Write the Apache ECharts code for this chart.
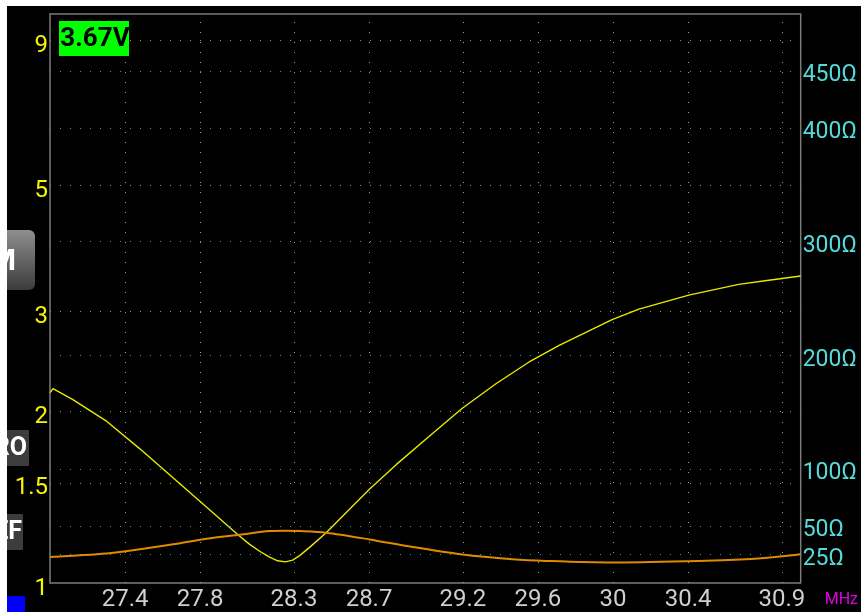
<!DOCTYPE html>
<html>
<head>
<meta charset="utf-8">
<script src="https://cdn.jsdelivr.net/npm/echarts@6/dist/echarts.min.js"></script>
<style>
  html, body { margin: 0; padding: 0; background: #fff; }
  #chart { width: 861px; height: 612px; }
</style>
</head>
<body>
<div id="chart"></div>
<script>
// Frequency grid / tick labels (MHz)
const freqTicks = [27.4, 27.8, 28.3, 28.7, 29.2, 29.6, 30, 30.4, 30.9];
// SWR scale ticks (log axis, left)
const swrTicks = [1, 1.5, 2, 3, 5, 9];
// Impedance scale ticks (ohms, right)
const ohmTicks = [25, 50, 100, 200, 300, 400, 450];

// SWR sweep
const swrFreq = [27.0, 27.016, 27.122, 27.303, 27.479, 27.654, 27.835, 28.0, 28.064, 28.117,
                 28.17, 28.213, 28.255, 28.293, 28.33, 28.383, 28.473, 28.58, 28.702, 28.846,
                 29.021, 29.197, 29.378, 29.553, 29.713, 29.872, 29.995, 30.138, 30.271, 30.404,
                 30.67, 30.83, 31.0];
const swrValues = [2.16, 2.195, 2.101, 1.923, 1.721, 1.532, 1.359, 1.217, 1.169, 1.137,
                   1.110, 1.094, 1.089, 1.097, 1.117, 1.155, 1.227, 1.331, 1.462, 1.616,
                   1.811, 2.028, 2.242, 2.446, 2.616, 2.775, 2.904, 3.030, 3.116, 3.205,
                   3.349, 3.405, 3.463];

// Impedance sweep (ohms)
const zFreq = [27.0, 27.302, 27.479, 27.656, 27.834, 28.011, 28.17, 28.25, 28.33, 28.472,
               28.702, 28.932, 29.198, 29.464, 29.642, 29.995, 30.404, 30.706, 30.9, 31.0];
const zValues = [22.9, 25.9, 29.6, 34.0, 38.9, 42.4, 45.6, 46.0, 45.7, 44.2,
                 38.3, 31.6, 25.0, 20.9, 19.4, 18.0, 19.2, 20.9, 23.5, 25.3];

const readout = '3.67V';

const dotted = (color) => ({ color: color, width: 1, type: [1, 9] });

const chart = echarts.init(document.getElementById('chart'), null, { renderer: 'canvas' });

const fmtNum = (v) => String(Number(Number(v).toPrecision(4)));

const option = {
  backgroundColor: '#000',
  animation: false,
  textStyle: { fontFamily: 'Roboto' },
  grid: {
    left: 50, top: 14, width: 752, height: 574,
    show: true, borderColor: '#7c7c7c', borderWidth: 1.5,
    backgroundColor: 'transparent'
  },
  xAxis: {
    type: 'value', min: 27, max: 31,
    axisLine: { show: false }, axisTick: { show: false }, splitLine: { show: false },
    axisLabel: {
      customValues: freqTicks, color: '#cfcfcf', fontSize: 24, margin: 5,
      formatter: fmtNum
    },
    name: 'MHz', nameLocation: 'end', nameGap: 24,
    nameTextStyle: { color: '#e000e0', fontSize: 16, verticalAlign: 'top', padding: [9, 0, 0, 0] }
  },
  yAxis: [
    {
      type: 'log', logBase: 10, min: 1, max: 10, position: 'left',
      axisLine: { show: false }, axisTick: { show: false }, splitLine: { show: false },
      axisLabel: {
        customValues: swrTicks, color: '#f5f500', fontSize: 24, margin: 2,
        verticalAlign: 'top', lineHeight: 11,
        formatter: fmtNum
      }
    },
    {
      type: 'value', min: 0, max: 500, position: 'right',
      axisLine: { show: false }, axisTick: { show: false }, splitLine: { show: false },
      axisLabel: {
        customValues: ohmTicks, color: '#55dada', fontSize: 23, margin: 2,
        verticalAlign: 'top', lineHeight: 9,
        formatter: (v) => fmtNum(v) + 'Ω'
      }
    }
  ],
  series: [
    {
      name: 'SWR', type: 'line', yAxisIndex: 0, z: 3,
      data: swrFreq.map((f, i) => [f, swrValues[i]]),
      showSymbol: false, smooth: false,
      lineStyle: { color: '#e8e800', width: 1.4 },
      markLine: {
        silent: true, z: 1, symbol: ['none', 'none'], animation: false,
        label: { show: false }, emphasis: { disabled: true },
        data: freqTicks.map(v => ({ xAxis: v, lineStyle: dotted('#a0a0a0') }))
          .concat(swrTicks.filter(v => v > 1).map(v => ({ yAxis: v, lineStyle: dotted('#a3a300') })))
      }
    },
    {
      name: '|Z|', type: 'line', yAxisIndex: 1, z: 4,
      data: zFreq.map((f, i) => [f, zValues[i]]),
      showSymbol: false, smooth: 0.3,
      lineStyle: { color: '#e08a00', width: 2 },
      markLine: {
        silent: true, z: 1, symbol: ['none', 'none'], animation: false,
        label: { show: false }, emphasis: { disabled: true },
        data: ohmTicks.map(v => ({ yAxis: v, lineStyle: dotted('#12a6a6') }))
      }
    }
  ],
  graphic: [
    // voltage readout badge
    { type: 'rect', z: 50, shape: { x: 59, y: 21, width: 70, height: 35 }, style: { fill: '#00ff00' } },
    { type: 'text', z: 51, x: 95, y: 39,
      style: { text: readout, fill: '#000', font: 'bold 26px Roboto', align: 'center', verticalAlign: 'middle', textAlign: 'center', textVerticalAlign: 'middle' } },
    // side buttons
    { type: 'rect', z: 50, shape: { x: -20, y: 230, width: 55, height: 60, r: 6 },
      style: { fill: { type: 'linear', x: 0, y: 0, x2: 0, y2: 1, colorStops: [{ offset: 0, color: '#8e8e8e' }, { offset: 1, color: '#3c3c3c' }] } } },
    { type: 'text', z: 51, x: 16, y: 262,
      style: { text: 'M', fill: '#fff', font: 'bold 30px Roboto', align: 'right', verticalAlign: 'middle', textAlign: 'right', textVerticalAlign: 'middle' } },
    { type: 'rect', z: 50, shape: { x: -20, y: 430, width: 49, height: 36 }, style: { fill: '#3c3c3c' } },
    { type: 'text', z: 51, x: 27, y: 449,
      style: { text: 'RO', fill: '#fff', font: 'bold 25px Roboto', align: 'right', verticalAlign: 'middle', textAlign: 'right', textVerticalAlign: 'middle' } },
    { type: 'rect', z: 50, shape: { x: -20, y: 514, width: 43, height: 36 }, style: { fill: '#3c3c3c' } },
    { type: 'text', z: 51, x: 22, y: 533,
      style: { text: 'EF', fill: '#fff', font: 'bold 25px Roboto', align: 'right', verticalAlign: 'middle', textAlign: 'right', textVerticalAlign: 'middle' } },
    { type: 'rect', z: 50, shape: { x: 7, y: 596, width: 18, height: 16 }, style: { fill: '#0000ff' } },
    // white page margins
    { type: 'rect', z: 100, shape: { x: 0, y: 0, width: 861, height: 6 }, style: { fill: '#fff' } },
    { type: 'rect', z: 100, shape: { x: 0, y: 0, width: 7, height: 612 }, style: { fill: '#fff' } }
  ]
};

chart.setOption(option);
</script>
</body>
</html>
